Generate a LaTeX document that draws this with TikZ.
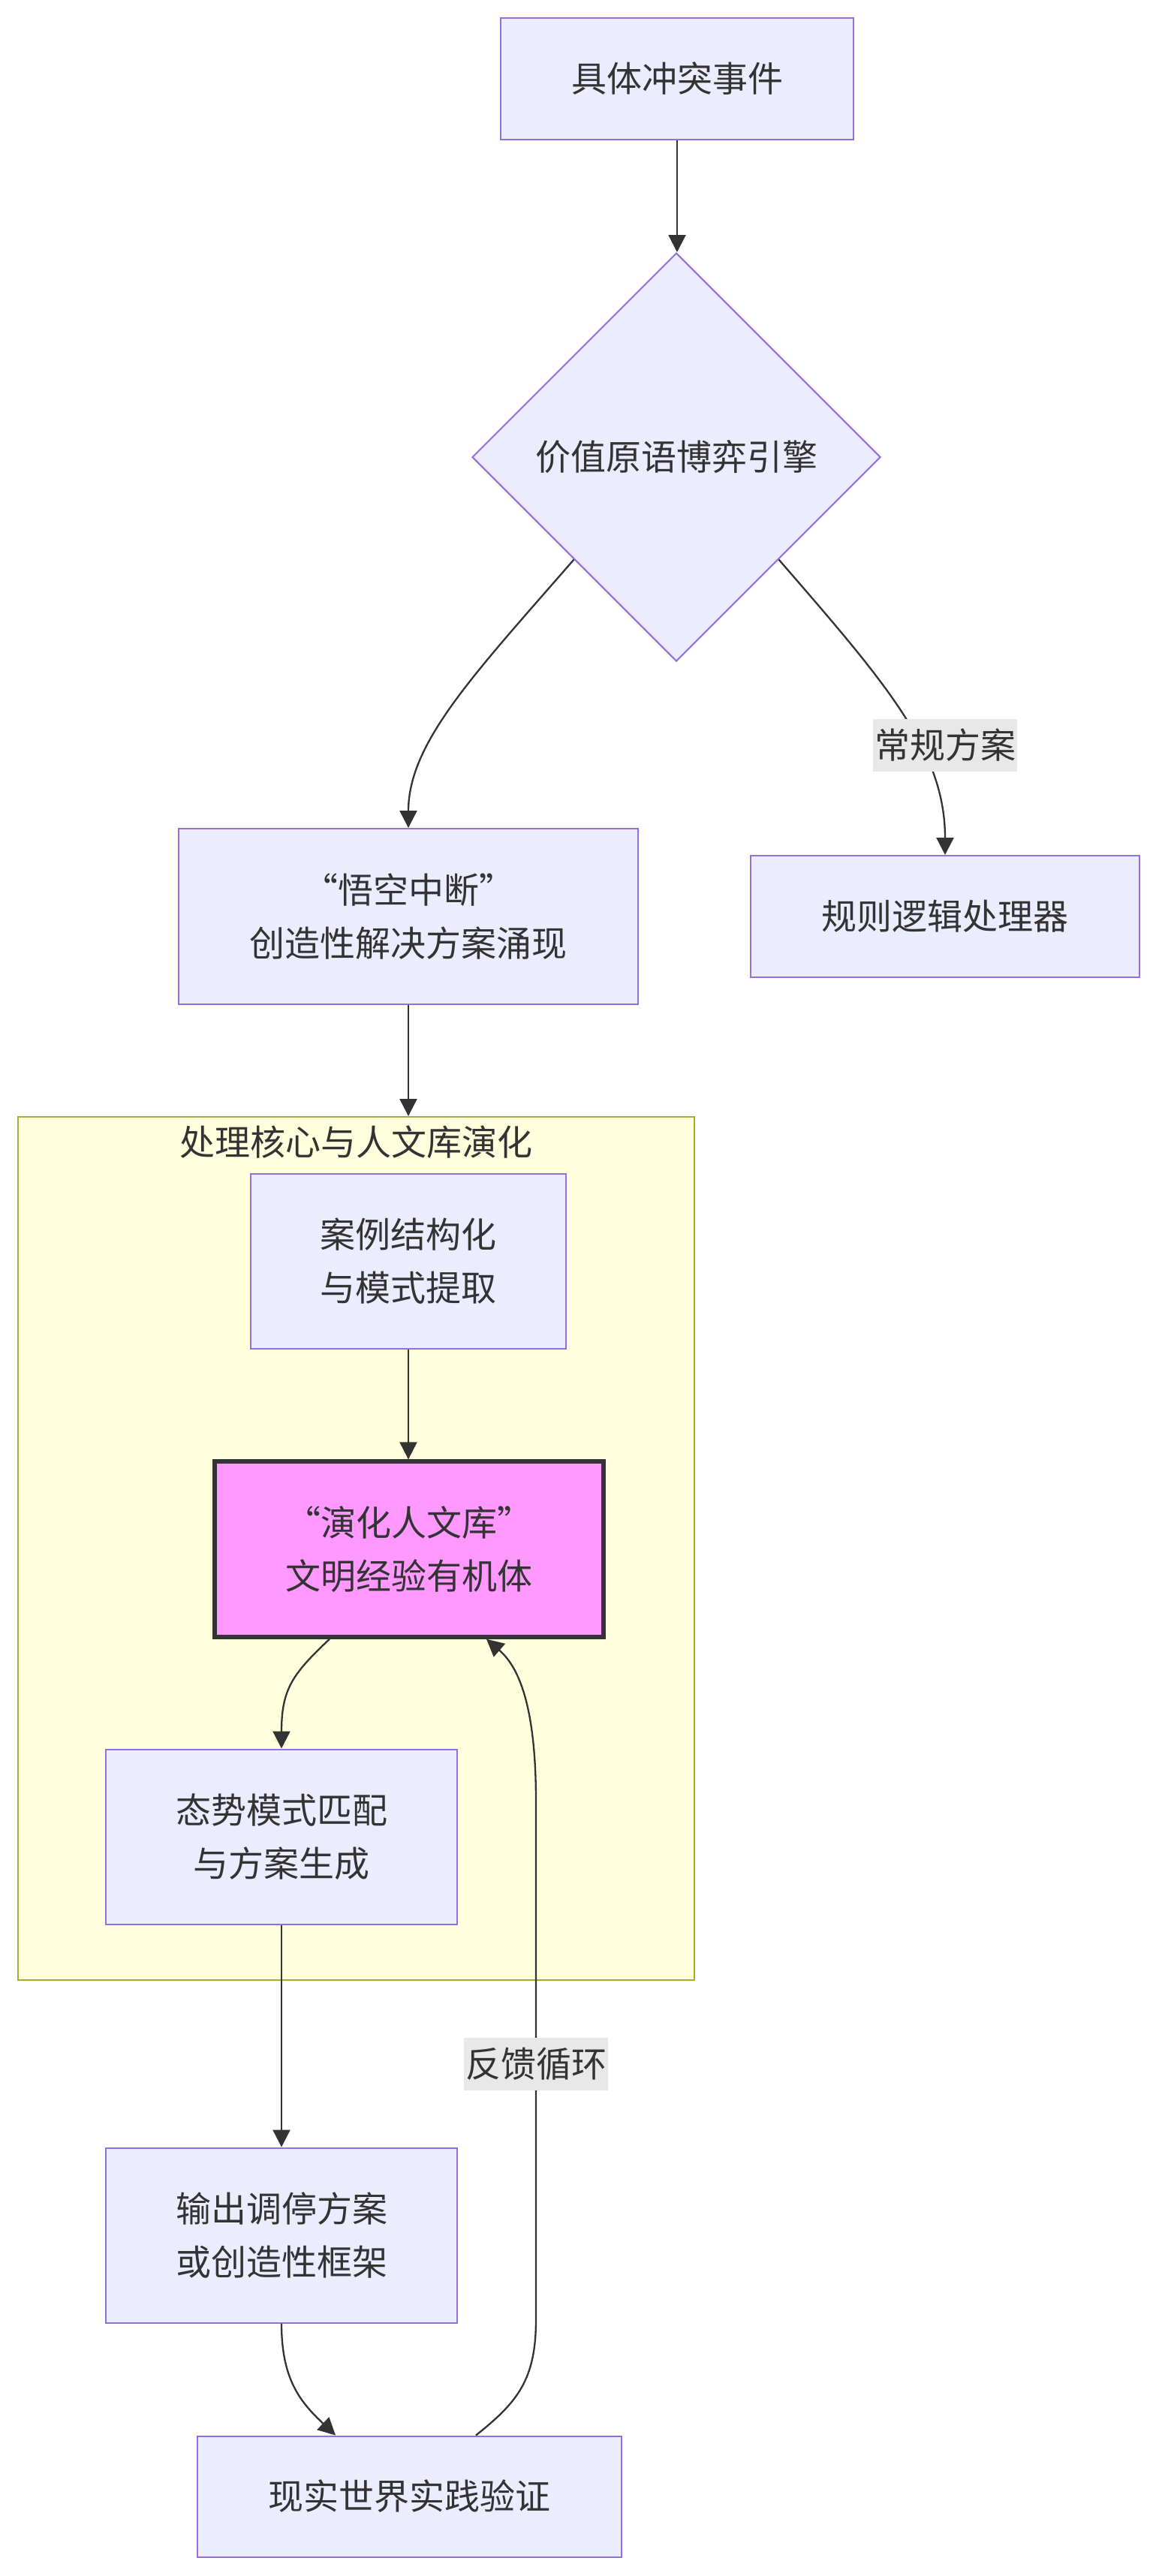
\documentclass[tikz,border=0pt]{standalone}
\usepackage{fontspec}
\setmainfont{Noto Sans CJK SC}
\usepackage{xcolor}
\usetikzlibrary{shapes.geometric,arrows.meta,calc}
\definecolor{NodeFill}{HTML}{ECECFF}
\definecolor{NodeLine}{HTML}{9370DB}
\definecolor{ClusterFill}{HTML}{FFFFDE}
\definecolor{ClusterLine}{HTML}{AAAA33}
\definecolor{LibFill}{HTML}{FF99FF}
\definecolor{TextGray}{HTML}{333333}
\definecolor{LabelBg}{HTML}{E8E8E8}

\begin{document}
\begin{tikzpicture}[x = 1pt, y = -1pt,
    every node/.style = {font = \fontsize{23.5}{35.5}\selectfont, text = TextGray},
    box/.style = {draw = NodeLine, fill = NodeFill, line width = 1pt, align = center, inner sep = 0pt},
    edge/.style = {draw = TextGray, line width = 1.15pt, -{Triangle[length = 11.5pt, width = 11.5pt]}},
    elabel/.style = {fill = LabelBg, inner xsep = 1pt, inner ysep = 0pt, minimum height = 35pt}]
    %画背景
    \fill[white] (0, 0) rectangle (770, 1716);
    %画子图框
    \node[draw = ClusterLine, fill = ClusterFill, line width = 1pt, minimum width = 450.5pt, minimum height = 575pt] (core) at (237.25, 1031.5) {};
    \node (coretitle) at (237, 761) {处理核心与人文库演化};
    %画节点
    \node[box, minimum width = 235pt, minimum height = 81pt] (ev) at (451, 52.5) {具体冲突事件};
    \node[box, diamond, aspect = 1, minimum width = 272pt, minimum height = 272pt] (eng) at (450.5, 304.5) {价值原语博弈引擎};
    \node[box, minimum width = 306pt, minimum height = 117pt] (wk) at (272, 610.5) {“悟空中断”\\创造性解决方案涌现};
    \node[box, minimum width = 259pt, minimum height = 81pt] (rule) at (629.5, 610.5) {规则逻辑处理器};
    \node[box, minimum width = 210pt, minimum height = 116.5pt] (case) at (272, 840) {案例结构化\\与模式提取};
    \node[box, draw = TextGray, fill = LibFill, line width = 2.7pt, minimum width = 259pt, minimum height = 117pt] (lib) at (272.5, 1032) {“演化人文库”\\文明经验有机体};
    \node[box, minimum width = 234pt, minimum height = 116.5pt] (match) at (187.5, 1223.5) {态势模式匹配\\与方案生成};
    \node[box, minimum width = 234pt, minimum height = 116.5pt] (out) at (187.5, 1489) {输出调停方案\\或创造性框架};
    \node[box, minimum width = 282.5pt, minimum height = 80.5pt] (real) at (272.5, 1663) {现实世界实践验证};
    %画连线
    \draw[edge] (ev.south) -- (ev.south |- eng.north);
    \draw[edge] ($(eng.west)!0.5!(eng.south)$) .. controls (315, 450) and (272, 495) .. (wk.north);
    \draw[edge] ($(eng.east)!0.5!(eng.south)$) .. controls (590, 455) and (629.5, 500) .. (rule.north);
    \node[elabel] (lbrule) at (629.5, 496.5) {常规方案};
    \draw[edge] (wk.south) -- (wk.south |- core.north);
    \draw[edge] (case.south) -- (case.south |- lib.north);
    \draw[edge] ([xshift = -53pt]lib.south) .. controls (195, 1115) and (187.5, 1125) .. (match.north);
    \draw[edge] (match.south) -- (out.north);
    \draw[edge] (out.south) .. controls (187.5, 1585) and (200, 1600) .. ([xshift = -49pt]real.north);
    \draw[edge] ([xshift = 44.5pt]real.north) .. controls (345, 1600) and (357, 1585) .. (357, 1545)
        -- (357, 1200) .. controls (357, 1135) and (345, 1110) .. ([xshift = 51.5pt]lib.south);
    \node[elabel] (lbloop) at (357, 1375) {反馈循环};
\end{tikzpicture}
\end{document}
